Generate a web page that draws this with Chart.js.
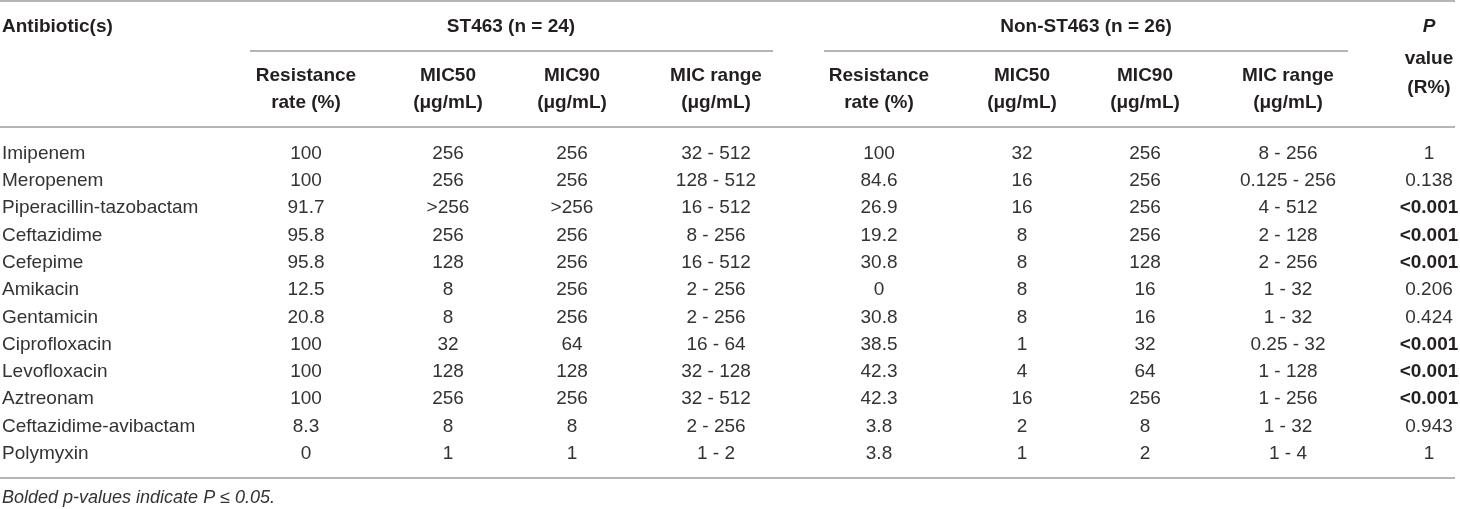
<!DOCTYPE html>
<html><head><meta charset="utf-8">
<script src="https://cdn.jsdelivr.net/npm/chart.js@4"></script>
<style>html,body{margin:0;padding:0;background:#fff;}canvas{display:block}</style>
</head><body>
<canvas id="c" width="1460" height="509"></canvas>
<script>
// ---- data ----
const antibiotics = ['Imipenem','Meropenem','Piperacillin-tazobactam','Ceftazidime','Cefepime','Amikacin','Gentamicin','Ciprofloxacin','Levofloxacin','Aztreonam','Ceftazidime-avibactam','Polymyxin'];
const st463Rate   = ['100','100','91.7','95.8','95.8','12.5','20.8','100','100','100','8.3','0'];
const st463Mic50  = ['256','256','>256','256','128','8','8','32','128','256','8','1'];
const st463Mic90  = ['256','256','>256','256','256','256','256','64','128','256','8','1'];
const st463Range  = ['32 - 512','128 - 512','16 - 512','8 - 256','16 - 512','2 - 256','2 - 256','16 - 64','32 - 128','32 - 512','2 - 256','1 - 2'];
const nonRate     = ['100','84.6','26.9','19.2','30.8','0','30.8','38.5','42.3','42.3','3.8','3.8'];
const nonMic50    = ['32','16','16','8','8','8','8','1','4','16','2','1'];
const nonMic90    = ['256','256','256','256','128','16','16','32','64','256','8','2'];
const nonRange    = ['8 - 256','0.125 - 256','4 - 512','2 - 128','2 - 256','1 - 32','1 - 32','0.25 - 32','1 - 128','1 - 256','1 - 32','1 - 4'];
const pValues     = ['1','0.138','<0.001','<0.001','<0.001','0.206','0.424','<0.001','<0.001','<0.001','0.943','1'];

const groupHeaders = ['ST463 (n = 24)','Non-ST463 (n = 26)'];
const subHeaders = [['Resistance','rate (%)'],['MIC50','(\u03bcg/mL)'],['MIC90','(\u03bcg/mL)'],['MIC range','(\u03bcg/mL)']];
const firstHeader = 'Antibiotic(s)';
const pHeader = ['P','value','(R%)'];
const footnote = 'Bolded p-values indicate P \u2264 0.05.';

const columns = [st463Rate, st463Mic50, st463Mic90, st463Range, nonRate, nonMic50, nonMic90, nonRange, pValues];

// ---- layout (styles / positions, not data) ----
const colCenters = [306, 448, 572, 716, 879, 1022, 1145, 1288, 1429];
const labelX = 2;
const FONT = '"Liberation Sans", Arial, Helvetica, sans-serif';
const TEXT = '#231f20';
const BODY = '#333333';
const RULE = '#9c9c9c';

const tablePlugin = {
  id: 'tableDraw',
  afterDraw(chart) {
    const ctx = chart.ctx;
    const xs = chart.scales.x, ys = chart.scales.y;
    const X = v => xs.getPixelForValue(v);
    const left = X(0), right = X(1455);
    ctx.save();
    ctx.textBaseline = 'middle';
    ctx.fillStyle = TEXT;

    // rules
    ctx.strokeStyle = RULE;
    ctx.lineWidth = 1.5;
    const hline = (x1, x2, y) => { ctx.beginPath(); ctx.moveTo(x1, y); ctx.lineTo(x2, y); ctx.stroke(); };
    hline(left, right, 1);
    hline(X(250), X(773), 51);
    hline(X(824), X(1348), 51);
    hline(left, right, 127);
    hline(left, right, 478);

    // headers
    ctx.font = 'bold 19px ' + FONT;
    ctx.textAlign = 'left';
    ctx.fillText(firstHeader, labelX, 27);
    ctx.textAlign = 'center';
    ctx.fillText(groupHeaders[0], X(511), 27);
    ctx.fillText(groupHeaders[1], X(1086), 27);
    for (let g = 0; g < 2; g++) {
      subHeaders.forEach((h, i) => {
        const cx = X(colCenters[g * 4 + i]);
        ctx.fillText(h[0], cx, 76);
        ctx.fillText(h[1], cx, 103);
      });
    }
    ctx.font = 'italic bold 19px ' + FONT;
    ctx.fillText(pHeader[0], X(colCenters[8]), 27);
    ctx.font = 'bold 19px ' + FONT;
    ctx.fillText(pHeader[1], X(colCenters[8]), 59);
    ctx.fillText(pHeader[2], X(colCenters[8]), 88);

    // body rows
    antibiotics.forEach((name, r) => {
      const y = ys.getPixelForValue(r);
      ctx.font = '19px ' + FONT;
      ctx.fillStyle = BODY;
      ctx.textAlign = 'left';
      ctx.fillText(name, labelX, y);
      ctx.textAlign = 'center';
      columns.forEach((col, c) => {
        const v = col[r];
        const isP = c === columns.length - 1;
        const bold = isP && (v.startsWith('<') || parseFloat(v) <= 0.05);
        ctx.font = (bold ? 'bold ' : '') + '19px ' + FONT;
        ctx.fillStyle = bold ? TEXT : BODY;
        ctx.fillText(v, X(colCenters[c]), y);
      });
    });

    // footnote
    ctx.font = 'italic 18px ' + FONT;
    ctx.fillStyle = BODY;
    ctx.textAlign = 'left';
    ctx.fillText(footnote, labelX, 498);
    ctx.restore();
  }
};

new Chart(document.getElementById('c'), {
  type: 'scatter',
  data: { datasets: [{ data: [], pointRadius: 0 }] },
  options: {
    responsive: false,
    animation: false,
    events: [],
    layout: { padding: { top: 140, bottom: 41.6, left: 0, right: 0 } },
    scales: {
      x: { type: 'linear', min: 0, max: 1460, display: false },
      y: { type: 'category', labels: antibiotics, offset: true, display: false }
    },
    plugins: { legend: { display: false }, tooltip: { enabled: false }, title: { display: false } }
  },
  plugins: [tablePlugin]
});
</script>
</body></html>
